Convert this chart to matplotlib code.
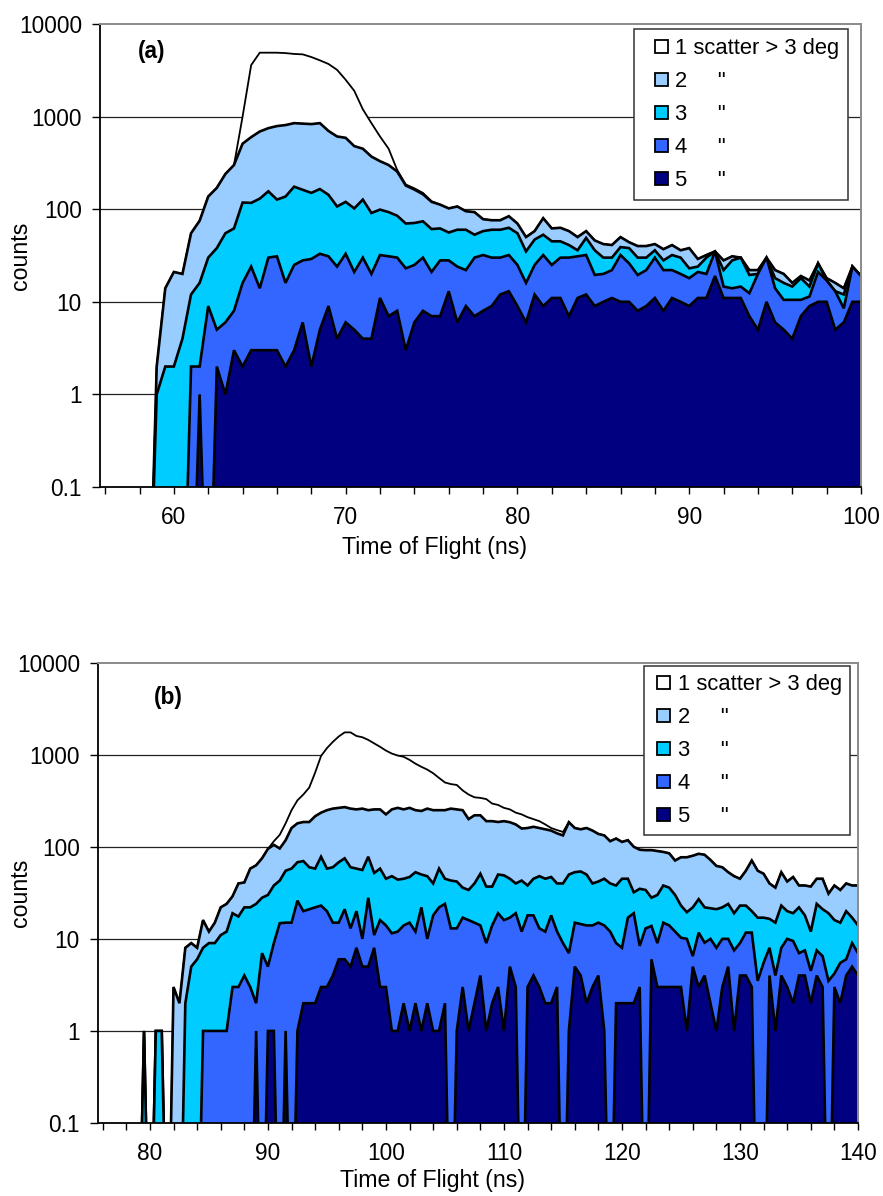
import numpy as np
import matplotlib
matplotlib.use("Agg")
import matplotlib.pyplot as plt
from matplotlib.patches import Patch, Rectangle
from matplotlib.legend_handler import HandlerPatch

plt.rcParams['font.family'] = ['Liberation Sans', 'DejaVu Sans']

# ---------------- data ----------------
SERIES_LABELS = ['1 scatter > 3 deg', '2     "', '3     "', '4     "', '5     "']
COLORS = ['#FFFFFF', '#99CCFF', '#00CCFF', '#3366FF', '#000080']
Y_TICKS = [0.1, 1, 10, 100, 1000, 10000]
Y_TICK_LABELS = ['0.1', '1', '10', '100', '1000', '10000']

# panel (a): time of flight bins (ns)
TOF_A = np.arange(56.0, 100.01, 0.5)
A_S1 = [0, 0, 0, 0, 0, 0,
        2, 14, 21, 20, 55, 75, 137, 170, 240, 300,
        1000, 3600, 4900, 4900, 4900, 4850, 4750, 4700, 4400, 4050,
        3700, 3200, 2500, 1900, 1200, 850, 610, 450, 265, 185,
        168, 150, 122, 112, 102, 107, 95, 93, 78, 76,
        76, 84, 70, 50, 58, 80, 62, 63, 58, 50,
        58, 46, 42, 41, 50, 44, 40, 40, 42, 37,
        41, 36, 38, 29, 32, 35, 28, 31, 30, 22,
        22, 30, 22, 20, 16, 19, 17, 26, 18, 16,
        14, 24, 19]
A_S2 = [0, 0, 0, 0, 0, 0,
        2, 14, 21, 20, 55, 75, 137, 170, 240, 300,
        510, 600, 690, 750, 790, 810, 850, 840, 830, 850,
        700, 610, 590, 480, 450, 370, 330, 300, 255, 180,
        163, 145, 120, 112, 102, 107, 95, 93, 78, 76,
        76, 84, 70, 50, 58, 80, 62, 63, 58, 50,
        58, 46, 42, 41, 50, 44, 40, 40, 42, 37,
        41, 36, 38, 29, 32, 35, 28, 31, 30, 22,
        22, 30, 22, 20, 16, 19, 17, 26, 18, 16,
        14, 24, 19]
A_S3 = [0, 0, 0, 0, 0, 0,
        1, 2, 2, 4, 12, 16, 30, 38, 55, 62,
        118, 117, 130, 156, 127, 137, 175, 162, 150, 165,
        143, 107, 120, 102, 127, 91, 99, 93, 85, 70,
        71, 74, 61, 62, 56, 60, 60, 53, 58, 60,
        60, 63, 55, 35, 47, 53, 45, 45, 41, 36,
        49, 36, 30, 30, 39, 38, 30, 30, 36, 28,
        32, 30, 23, 24, 30, 35, 22, 28, 30, 19.5,
        20, 30, 18, 16, 14.6, 18, 14.6, 26, 17, 13,
        12, 24, 19]
A_S4 = [0, 0, 0, 0, 0, 0,
        0, 0, 0, 0, 2, 2, 9, 5, 6, 8,
        16, 24, 14, 30, 31, 16, 25, 28, 29, 33,
        31, 24, 33, 21, 30, 20, 32, 31, 30, 23,
        25, 30, 21, 28, 28, 24, 22, 30, 32, 30,
        30, 32, 25, 16, 25, 32, 25, 30, 30, 31,
        32, 19.5, 20, 22, 32, 26, 19.5, 22, 30, 22,
        22, 20, 18, 21, 20, 35, 14.6, 14, 14.6, 12.4,
        20, 30, 14, 10.5, 10.5, 10.5, 11.4, 21, 17, 13,
        8.5, 24, 19]
A_S5 = [0, 0, 0, 0, 0, 0,
        0, 0, 0, 0, 0, 1, 0, 2, 1, 3,
        2, 3, 3, 3, 3, 2, 3, 6, 2, 5,
        9, 4, 6, 5, 4, 4, 11, 7, 8, 3,
        6, 8, 7, 7, 13, 6, 9, 7, 8, 9,
        12, 13, 9, 6, 12, 9, 11, 11, 7, 11,
        12, 9, 10, 11, 10, 10, 8, 9, 11, 8,
        11, 10, 9, 11, 11, 19, 11, 11, 11, 7,
        5, 10, 6, 5, 4, 7, 9, 10, 10, 5,
        6, 10, 10]

# panel (b)
TOF_B = np.arange(76.0, 140.01, 0.5)
B_S1 = [0, 0, 0, 0, 0, 0, 0, 1, 0, 1,
        1, 0, 3, 2, 8, 9, 8, 16, 12, 15,
        22, 24, 29, 40, 41, 58, 63, 75, 95, 115,
        135, 180, 250, 320, 370, 440, 640, 970, 1180, 1380,
        1580, 1750, 1750, 1600, 1550, 1450, 1330, 1220, 1110, 1030,
        980, 950, 880, 800, 740, 690, 630, 560, 500, 480,
        470, 410, 370, 345, 340, 330, 295, 285, 265, 255,
        235, 225, 210, 200, 190, 175, 160, 152, 145, 185,
        160, 155, 160, 150, 138, 133, 115, 123, 113, 118,
        100, 93, 92, 92, 90, 88, 85, 71, 77, 77,
        80, 84, 82, 72, 62, 60, 53, 48, 45, 55,
        71, 55, 51, 40, 36, 53, 42, 47, 38, 38,
        37, 45, 45, 31, 38, 34, 40, 38, 38]
B_S2 = [0, 0, 0, 0, 0, 0, 0, 1, 0, 1,
        1, 0, 3, 2, 8, 9, 8, 16, 12, 15,
        22, 24, 29, 40, 41, 58, 63, 75, 95, 105,
        96, 118, 160, 180, 186, 186, 215, 235, 250, 260,
        265, 270, 260, 255, 260, 250, 255, 255, 225, 255,
        265, 255, 265, 250, 245, 260, 250, 250, 250, 260,
        255, 250, 200, 220, 220, 190, 190, 186, 190, 185,
        175, 158, 160, 165, 160, 155, 150, 140, 133, 185,
        160, 155, 160, 150, 138, 133, 115, 123, 113, 118,
        100, 93, 92, 92, 90, 88, 85, 71, 77, 77,
        80, 84, 82, 72, 62, 60, 53, 48, 45, 55,
        71, 55, 51, 40, 36, 53, 42, 47, 38, 38,
        37, 45, 45, 31, 38, 34, 40, 38, 38]
B_S3 = [0, 0, 0, 0, 0, 0, 0, 1, 0, 1,
        1, 0, 0, 0, 2, 5, 6, 8, 9, 9,
        11, 12, 19, 17.5, 22, 22, 24, 28, 30, 38,
        43, 55, 58, 68, 70, 60, 58, 78, 58, 60,
        68, 75, 60, 58, 56, 78, 52, 58, 45, 48,
        44, 45, 47, 53, 50, 48, 40, 58, 45, 43,
        42, 36, 34, 40, 51, 37, 37, 50, 49, 45,
        40, 43, 38, 45, 48, 45, 47, 40, 40, 50,
        53, 54, 50, 40, 42, 45, 40, 38, 45, 45,
        32, 35, 34, 28, 30, 38, 36, 30, 23, 19.5,
        22, 27, 22, 21.5, 21, 22, 24, 19, 23, 23,
        20, 17, 17, 16.5, 15, 23, 20, 19, 22, 18,
        12, 24, 21, 19, 16, 15, 20, 17, 14]
B_S4 = [0, 0, 0, 0, 0, 0, 0, 0, 0, 0,
        0, 0, 0, 0, 0, 0, 0, 1, 1, 1,
        1, 1, 3, 3, 4, 3, 2, 7, 5, 9,
        14.8, 15, 15, 26, 20, 21, 22, 23, 20, 15,
        15, 21, 13, 20, 10, 28, 11, 16, 14, 11.5,
        12, 14, 15, 12, 22, 10, 18, 22, 24, 13,
        13, 17, 16, 15, 14, 9, 14, 19, 16, 17,
        19, 12, 18, 18, 13, 12, 18, 12, 9, 7,
        15, 14.5, 14, 14, 15, 14, 12, 9, 8, 17,
        19, 8.4, 13, 13.8, 9, 15, 14, 12, 10.3, 10,
        6.5, 11.7, 9.1, 10, 8, 10, 10, 7.5, 9, 11.7,
        11.7, 3.5, 5.5, 8, 4, 8, 10, 9.5, 7, 7.5,
        4.5, 7.5, 6.5, 3.5, 4.2, 5.5, 6, 9, 7]
B_S5 = [0, 0, 0, 0, 0, 0, 0, 0, 0, 0,
        0, 0, 0, 0, 0, 0, 0, 0, 0, 0,
        0, 0, 0, 0, 0, 0, 1, 0, 1, 1,
        0, 1, 0, 1, 2, 2, 2, 3, 3, 4,
        6, 6, 5, 8, 5, 5, 8, 3, 3, 1,
        1, 2, 1, 2, 1, 2, 1, 1, 2, 0,
        1, 3, 1, 2, 4, 1, 2, 3, 1, 5,
        3, 0, 3, 4, 3, 2, 2, 3, 0, 1,
        5, 4, 2, 3, 4, 1, 0, 2, 2, 2,
        2, 3, 0, 6, 3, 3, 3, 3, 3, 1,
        5, 3, 4, 2, 1, 3, 5, 1, 4, 4,
        3, 0, 0, 4, 1, 4, 3, 2, 4, 4,
        2, 4, 3, 0, 3, 2, 4, 5, 4]

FLOOR = 1e-3   # zero counts drawn below the axis floor (log scale)

W, H = 883, 1196
fig = plt.figure(figsize=(W / 100, H / 100), dpi=100)
FS = 16.3
FS_LEG = 15.8


def px_axes(left, top, right, bottom):
    return fig.add_axes([left / W, 1 - bottom / H, (right - left) / W, (bottom - top) / H])


def square_patch(legend, orig_handle, xdescent, ydescent, width, height, fontsize):
    sq = 0.6 * fontsize
    return Rectangle((-xdescent + width - sq, -ydescent + (height - sq) / 2), sq, sq)


def draw_panel(ax, x, series, xlim, xticks_major, xticks_minor, letter, letter_pos,
               leg_anchor, leg_handlelen, leg_pad):
    for i, (vals, col) in enumerate(zip(series, COLORS)):
        v = np.asarray(vals, dtype=float)
        assert len(v) == len(x)
        y = np.where(v > 0, v, FLOOR)
        ax.fill_between(x, y, FLOOR, facecolor=col, edgecolor='none', lw=0, zorder=3 + 2 * i)
        ax.plot(x, y, color='black', lw=1.3 if i == 0 else 1.9, zorder=4 + 2 * i,
                solid_joinstyle='miter')
    ax.set_yscale('log')
    ax.set_ylim(0.1, 10000)
    ax.set_xlim(*xlim)
    ax.set_yticks(Y_TICKS)
    ax.set_yticklabels(Y_TICK_LABELS)
    ax.yaxis.set_minor_locator(matplotlib.ticker.NullLocator())
    ax.set_xticks(xticks_minor, minor=True)
    ax.set_xticks(xticks_major)
    ax.set_xticklabels([str(int(t)) for t in xticks_major])
    ax.tick_params(axis='y', which='major', length=6, width=1.0, pad=7, labelsize=FS, direction='out')
    ax.tick_params(axis='x', which='both', length=5, width=1.0, pad=9, labelsize=FS, direction='out')
    for t in Y_TICKS[1:-1]:
        ax.axhline(t, color='#222222', lw=0.9, zorder=1)
    for s in ['left', 'bottom']:
        ax.spines[s].set_color('black')
        ax.spines[s].set_linewidth(1.3)
        ax.spines[s].set_zorder(20)
    for s in ['top', 'right']:
        ax.spines[s].set_color('#8a8a8a')
        ax.spines[s].set_linewidth(1.4)
        ax.spines[s].set_zorder(20)
    ax.text(letter_pos[0], letter_pos[1], letter, transform=ax.transAxes, fontsize=FS,
            fontweight='bold', ha='center', va='center', zorder=30)
    handles = [Patch(facecolor=c, edgecolor='black', lw=1.3) for c in COLORS]
    leg = ax.legend(handles, SERIES_LABELS, loc='upper right', bbox_to_anchor=leg_anchor,
                    borderaxespad=0, frameon=True, fancybox=False, framealpha=1,
                    edgecolor='#333333', fontsize=FS_LEG, borderpad=leg_pad, labelspacing=0.55,
                    handlelength=leg_handlelen, handleheight=0.7, handletextpad=0.33,
                    handler_map={Patch: HandlerPatch(patch_func=square_patch)})
    leg.get_frame().set_linewidth(1.1)
    leg.set_zorder(40)


ax_a = px_axes(100, 24, 861, 487)
draw_panel(ax_a, TOF_A, [A_S1, A_S2, A_S3, A_S4, A_S5], (55.7, 100),
           [60, 70, 80, 90, 100], list(range(56, 101, 2)), '(a)', (0.068, 0.94),
           (0.983, 0.989), 1.13, 0.41)

ax_b = px_axes(98, 662.7, 858, 1123)
draw_panel(ax_b, TOF_B, [B_S1, B_S2, B_S3, B_S4, B_S5], (75.6, 140),
           [80, 90, 100, 110, 120, 130, 140], list(range(76, 141, 2)), '(b)', (0.092, 0.925),
           (0.989, 0.993), 0.84, 0.36)

fig.text(434 / W, 1 - 548 / H, 'Time of Flight (ns)', fontsize=FS + 0.4, ha='center', va='center')
fig.text(433 / W, 1 - 1181 / H, 'Time of Flight (ns)', fontsize=FS + 0.4, ha='center', va='center')
fig.text(20 / W, 1 - 256 / H, 'counts', fontsize=FS + 0.4, ha='center', va='center', rotation=90)
fig.text(20 / W, 1 - 893 / H, 'counts', fontsize=FS + 0.4, ha='center', va='center', rotation=90)

fig.savefig('out.png', dpi=100, facecolor='white')
